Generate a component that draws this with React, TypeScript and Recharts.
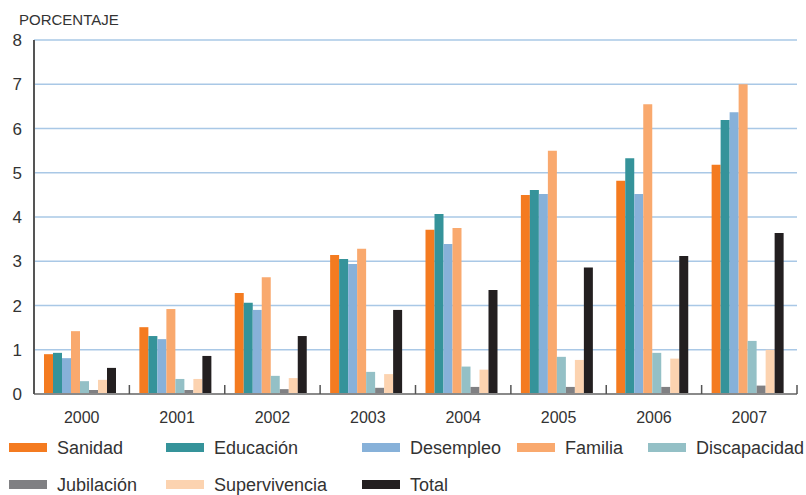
import React from 'react';
import { BarChart, Bar, XAxis, YAxis, CartesianGrid } from 'recharts';

const years = ['2000', '2001', '2002', '2003', '2004', '2005', '2006', '2007'];
const sanidad = [0.9, 1.51, 2.28, 3.14, 3.71, 4.5, 4.82, 5.18];
const educacion = [0.93, 1.31, 2.06, 3.05, 4.07, 4.61, 5.33, 6.19];
const desempleo = [0.81, 1.24, 1.9, 2.94, 3.39, 4.52, 4.52, 6.37];
const familia = [1.42, 1.92, 2.64, 3.28, 3.75, 5.5, 6.55, 7.0];
const discapacidad = [0.29, 0.34, 0.41, 0.5, 0.62, 0.84, 0.93, 1.2];
const jubilacion = [0.09, 0.09, 0.11, 0.14, 0.16, 0.16, 0.16, 0.19];
const supervivencia = [0.32, 0.34, 0.36, 0.45, 0.55, 0.77, 0.8, 1.0];
const total = [0.59, 0.86, 1.31, 1.9, 2.35, 2.86, 3.12, 3.64];
const yTicks = [0, 1, 2, 3, 4, 5, 6, 7, 8];
const yLabel = 'PORCENTAJE';

const series = [
  { key: 'sanidad', name: 'Sanidad', values: sanidad, color: '#f47b20' },
  { key: 'educacion', name: 'Educación', values: educacion, color: '#35939a' },
  { key: 'desempleo', name: 'Desempleo', values: desempleo, color: '#87b1d9' },
  { key: 'familia', name: 'Familia', values: familia, color: '#f9a96e' },
  { key: 'discapacidad', name: 'Discapacidad', values: discapacidad, color: '#94c0c6' },
  { key: 'jubilacion', name: 'Jubilación', values: jubilacion, color: '#808083' },
  { key: 'supervivencia', name: 'Supervivencia', values: supervivencia, color: '#fcd3b0' },
  { key: 'total', name: 'Total', values: total, color: '#231f20' },
];

const data = years.map((y, i) => {
  const row: Record<string, any> = { year: y };
  series.forEach((s) => {
    row[s.key] = s.values[i];
  });
  return row;
});

const W = 806;
const H = 495;
const Y_AXIS_W = 34;
const M = { top: 40, right: 9, left: 0, bottom: 71 };
const PLOT_W = W - Y_AXIS_W - M.left - M.right;
const HALF_BAND = PLOT_W / years.length / 2;
const FONT = '"Liberation Sans", Arial, Helvetica, sans-serif';

const legendCols = [9, 166, 362, 517, 648];
const legendRows = [443, 480];

const XTick = (props: any) => {
  const { x, y, payload } = props;
  return (
    <g>
      <line x1={x + HALF_BAND} x2={x + HALF_BAND} y1={y - 9} y2={y} stroke="#555" strokeWidth={1.5} />
      <text x={x} y={y + 29} textAnchor="middle" fontSize={16} fill="#333" fontFamily={FONT}>
        {payload.value}
      </text>
    </g>
  );
};

export default function App() {
  return (
    <div style={{ position: 'absolute', left: 0, top: 0, width: W, height: H, background: '#fff' }}>
      <BarChart width={W} height={H} data={data} margin={M} barCategoryGap={10} barGap={0}>
        <CartesianGrid vertical={false} stroke="#a9c8e6" strokeWidth={1.5} />
        <XAxis
          dataKey="year"
          height={30}
          tickLine={false}
          tickSize={0}
          tickMargin={0}
          axisLine={{ stroke: '#8a8a8a', strokeWidth: 2 }}
          tick={<XTick />}
          interval={0}
        />
        <YAxis
          width={Y_AXIS_W}
          domain={[0, 8]}
          ticks={yTicks}
          interval={0}
          tickLine={false}
          tickMargin={6}
          axisLine={{ stroke: '#555', strokeWidth: 2 }}
          tick={{ fontSize: 17, fill: '#333', fontFamily: FONT }}
        />
        {series.map((s) => (
          <Bar key={s.key} dataKey={s.key} name={s.name} fill={s.color} isAnimationActive={false} />
        ))}
      </BarChart>
      <svg width={W} height={H} style={{ position: 'absolute', left: 0, top: 0, pointerEvents: 'none' }}>
        <text x={19} y={25} fontSize={15} fill="#333" fontFamily={FONT}>
          {yLabel}
        </text>
        {series.map((s, i) => {
          const x = legendCols[i % 5];
          const y = legendRows[Math.floor(i / 5)];
          return (
            <g key={s.key}>
              <rect x={x} y={y} width={38} height={9} fill={s.color} />
              <text x={x + 48} y={y + 11} fontSize={18} fill="#333" fontFamily={FONT}>
                {s.name}
              </text>
            </g>
          );
        })}
      </svg>
    </div>
  );
}
